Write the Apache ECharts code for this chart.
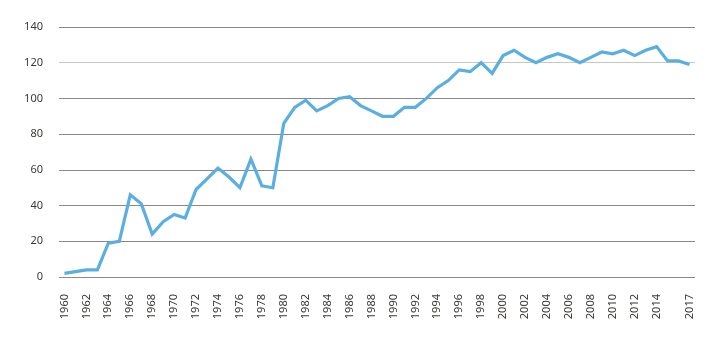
<!DOCTYPE html>
<html>
<head>
<meta charset="utf-8">
<script src="https://cdn.jsdelivr.net/npm/echarts@6/dist/echarts.min.js"></script>
<style>
  html, body { margin: 0; padding: 0; background: #fff; }
  #chart { width: 719px; height: 341px; }
</style>
</head>
<body>
<div id="chart"></div>
<script>
// Years on the x axis
const years = [];
for (let y = 1960; y <= 2017; y++) years.push(String(y));

// Annual values, 1960–2017
const values = [
  2, 3, 4, 4, 19, 20, 46, 41, 24, 31,
  35, 33, 49, 55, 61, 56, 50, 66, 51, 50,
  86, 95, 99, 93, 96, 100, 101, 96, 93, 90,
  90, 95, 95, 100, 106, 110, 116, 115, 120, 114,
  124, 127, 123, 120, 123, 125, 123, 120, 123, 126,
  125, 127, 124, 127, 129, 121, 121, 119
];

// Year labels that are printed under the axis
const shownYears = [];
for (let y = 1960; y <= 2014; y += 2) shownYears.push(String(y));
shownYears.push('2017');

// Value axis ticks
const yMin = 0, yMax = 140, yStep = 20;

const textColor = '#3d3935';
const font = 'Noto Sans';

const chart = echarts.init(document.getElementById('chart'));
chart.setOption({
  animation: false,
  grid: { left: 59, right: 24, top: 27, bottom: 64 },
  xAxis: {
    type: 'category',
    data: years,
    boundaryGap: true,
    axisLine: { show: false },
    axisTick: { show: false },
    axisLabel: {
      rotate: 90,
      margin: 17,
      color: textColor,
      fontFamily: font,
      fontSize: 11,
      interval: (i, v) => shownYears.includes(v)
    }
  },
  yAxis: {
    type: 'value',
    min: yMin, max: yMax, interval: yStep,
    axisLine: { show: false },
    axisTick: { show: false },
    axisLabel: { color: textColor, fontFamily: font, fontSize: 11, margin: 16 },
    splitLine: {
      lineStyle: {
        width: 1.2,
        color: ['#8d8682', '#8d8682', '#8d8682', '#8d8682', '#8d8682', '#8d8682', '#cbc6c2', '#8d8682']
      }
    }
  },
  series: [{
    type: 'line',
    data: values,
    symbol: 'none',
    lineStyle: { color: '#5aafe0', width: 3.2, join: 'miter' },
    itemStyle: { color: '#5aafe0' }
  }]
});
</script>
</body>
</html>
